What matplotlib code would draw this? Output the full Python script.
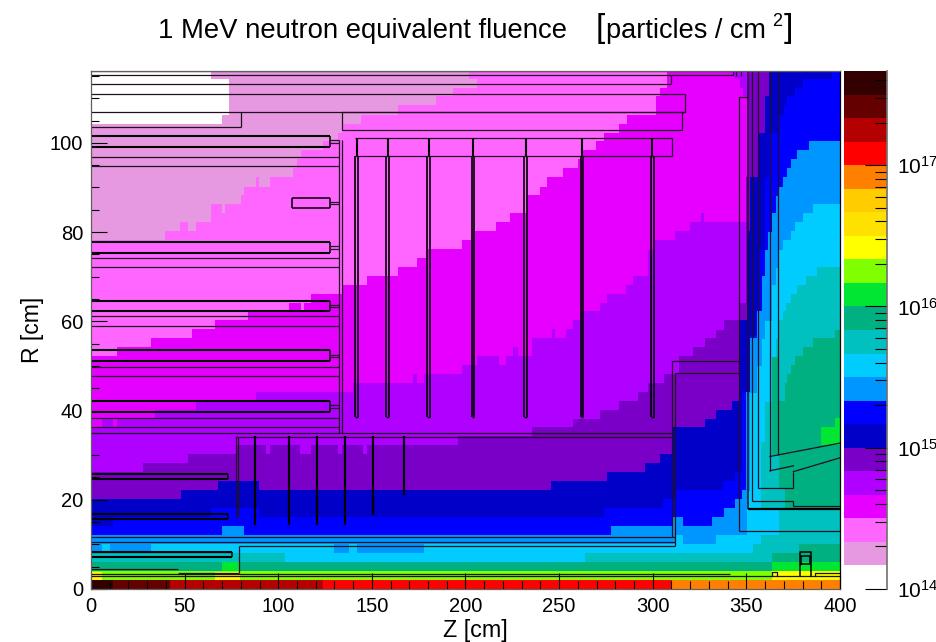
#!/usr/bin/env python3
# -*- coding: utf-8 -*-
import numpy as np
import matplotlib
matplotlib.use('Agg')
import matplotlib.pyplot as plt
from matplotlib.colors import ListedColormap, BoundaryNorm

plt.rcParams['font.family'] = ['Liberation Sans', 'DejaVu Sans']
plt.rcParams['mathtext.fontset'] = 'custom'
plt.rcParams['mathtext.rm'] = 'Liberation Sans'

R_TOP = 116.1

# palette from the bottom of the colour bar upwards, 6 steps per decade
level_colors = ['#ffffff', '#e699e0', '#ff66ff', '#e600ff', '#b000ff', '#7a00c8',
                '#0000c8', '#0000ff', '#0096ff', '#00ccff', '#00c0c0', '#00b080',
                '#00e632', '#80ff00', '#ffff00', '#ffe100', '#ffcc00', '#ff8000',
                '#ff0000', '#b40000', '#640000', '#320000']
level_exponents = [14 + i / 6 for i in range(23)]

# upper edge of every band: step starts in Z and the R height from there on
z_l1 = [0, 69.8, 73.7]
r_l1 = [104.3, 106.3, R_TOP]
z_l2 = [0, 39.5, 47.5, 52, 56, 64, 69.8, 71.7, 79.9, 81.7, 88.1, 89.9, 95.6, 108, 110.2, 112,
        124, 132, 134, 144, 164, 184.2, 193.5, 206]
r_l2 = [78.2, 80.2, 82.2, 80.2, 82.2, 86.2, 84.2, 86.2, 88.3, 90.2, 92.3, 90.2, 92.3, 94.3,
        96.3, 98.3, 100.3, 102.3, 104.3, 106.3, 108.4, 110.4, 112.3, R_TOP]
z_l3 = [0, 13.7, 31.9, 54.1, 66.2, 83.7, 105.9, 112, 113.8, 117.5, 133.9, 147.6, 164.1, 174.3,
        180.2, 198, 205, 216.3, 223.8, 232.7, 239.8, 243.7, 251.9, 260.3, 262.6, 269.7, 274,
        282.2, 286.1, 301.7, 303.9, 307.8]
r_l3 = [52.3, 54.3, 56.2, 58.2, 60.2, 62.2, 64.2, 62.2, 64.2, 66.1, 68.2, 70.2, 72.1, 74.1,
        76.2, 78.2, 80.2, 82.2, 84.2, 88.3, 90.2, 92.3, 94.3, 96.3, 98.3, 100.3, 102.3, 104.3,
        106.3, 110.4, 112.3, R_TOP]
z_l4 = [0, 5.7, 11.9, 14, 34.2, 56.1, 88.1, 140.1, 171.8, 174.3, 177.8, 198, 206, 218.1, 221.6,
        225.6, 228.2, 235.3, 246.1, 247.8, 253.7, 257.6, 261.2, 271.8, 275.8, 285.8, 289.6,
        297.7, 301.2, 311.9, 319.9, 325.8, 327.6, 350.2]
r_l4 = [36.4, 38.2, 36.4, 38.2, 40.1, 42.2, 44.2, 46.1, 48.2, 46.1, 48.2, 50.2, 52.2, 50.2, 52.2,
        54.2, 52.2, 56.2, 58.2, 56.2, 58.2, 60.2, 62.2, 64.2, 66.1, 68.2, 70.2, 76, 78.2, 80.2,
        82.2, 84.2, 82.2, R_TOP]
z_l5 = [0, 27.9, 52, 77.8, 93.5, 95.6, 111.6, 117.5, 132.1, 133.9, 145.4, 147.6, 196.2, 235.3,
        257.6, 271.8, 282.2, 292, 297.7, 306, 314.2, 321.7, 327.9, 333.8, 338, 346.6, 349.8, 351.6]
r_l5 = [26.2, 28.2, 30.2, 32.3, 30.2, 32.3, 30.2, 32.3, 30.2, 32.3, 30.2, 32.3, 34.2, 36.2, 38.2,
        40.1, 42.2, 44.2, 46.1, 48.2, 52.2, 54.2, 56.2, 58.1, 60.2, 64.2, 92.4, R_TOP]
z_l6 = [0, 47.9, 68, 89.9, 245.7, 275.8, 295.9, 303.9, 311, 327.9, 333.8, 342.1, 346.6, 350.5,
        351.9, 356.4, 360, 362.3]
r_l6 = [20.1, 22.2, 24.1, 22.2, 24.1, 26.2, 28.2, 30.2, 36.2, 38.2, 40.1, 42.2, 60.2, 80.2, 92.4,
        102.2, 110.4, R_TOP]
z_l7 = [0, 11.9, 64.1, 89.9, 274, 305.7, 312, 337.7, 344, 347.5, 351.9, 355.4, 356.9, 360, 362.3,
        367, 370.1, 371.5, 376, 380.5, 395.6]
r_l7 = [14.1, 16.1, 18.1, 16.1, 18.1, 20.1, 22.2, 24.1, 26.2, 44.2, 56.6, 62.2, 76, 92.4, 102.2,
        106.3, 108.4, 110.4, 112.3, 114.3, R_TOP]
z_l8 = [0, 69.8, 81.7, 277.7, 310.1, 316.3, 331.5, 337.9, 344, 347.5, 349.8, 351.9, 355.9, 358.2,
        360, 361.7, 363.5, 365.8, 367.6, 369.7, 371.5, 373.7, 377.2, 383.6]
r_l8 = [12.1, 14.1, 12.1, 14.1, 16.1, 14.1, 16.1, 18.1, 20.1, 22.2, 44.2, 56.2, 62.2, 70.2, 76, 80,
        84.2, 88, 90.2, 92.3, 94.3, 96.3, 98.3, 100.3]
z_l9 = [0, 312, 316.3, 333.8, 350.2, 351.9, 355.9, 358.2, 360, 363.5, 366, 367.6, 369.7, 373.7,
        376, 380.5, 385.8]
r_l9 = [10.1, 12.1, 10.1, 12.1, 22, 44, 50, 56, 60, 68.2, 72, 76, 78.2, 80.2, 82.2, 84.2, 86.2]
z_l10 = [0, 103.6, 263.8, 353.7, 357.8, 360, 363.5, 365.8, 367.6, 369.7, 370.9, 373.7, 377.2,
         381.8, 387.5]
r_l10 = [8.1, 6.1, 8.1, 10.1, 33, 42, 52, 56, 60.2, 62.2, 64.1, 66.1, 68.2, 70.2, 72.1]
# the outer green band does not reach the beam line, so it has a floor too
z_l11 = [367.4, 370.4, 371.8, 373.7, 376, 380.1, 385.8, 397.3]
r_l11 = [42.2, 46.1, 48.2, 50.2, 52.2, 54.2, 56.2, 58.1]
floor_l11 = [22.6, 18.1, 18.1, 18.1, 18.1, 18.1, 18.1, 18.1]
z_l11_low = [0, 363.5, 378.3]
r_l11_low = [6.1, 8.1, 10.1]

# bins that stick out of the bands: Z from, Z to, R from, R to, level
island_z0 = [64, 201.9, 343.6, 346.6, 348.4, 0, 10.1, 129.8, 141.9, 357.6, 363.5, 389.9, 397.3]
island_z1 = [73.7, 206, 346.6, 348.4, 350.2, 5.7, 31.9, 137.6, 177.8, 367.4, 367.4, 397.3, 400]
island_r0 = [114.2, 114.3, 114.5, 112.3, 110.4, 8.1, 8.1, 8.1, 8.1, 12.1, 30, 32.3, 32.3]
island_r1 = [R_TOP, R_TOP, R_TOP, R_TOP, R_TOP, 10.1, 10.1, 10.1, 10.1, 18.1, 52, 36.4, 38.3]
island_lev = [1, 2, 4, 4, 4, 8, 8, 8, 8, 9, 11, 12, 12]

# beam line rows at the bottom: Z from, Z to, R from, R to, level
row_z0 = [0, 69.8, 363.5, 0, 66.2, 363.5, 0, 11.9, 42.2, 123.7, 310.1]
row_z1 = [400, 79.6, 400, 5.7, 79.6, 400, 11.9, 42.2, 123.7, 310.1, 400]
row_r0 = [2, 4.1, 4.1, 2, 2, 2, 0, 0, 0, 0, 0]
row_r1 = [4.1, 6.1, 6.1, 3.9, 3.9, 4.1, 2, 2, 2, 2, 2]
row_lev = [13, 12, 12, 14, 14, 14, 21, 20, 19, 18, 17]

# detector outline, thin horizontals: R, Z from, Z to
wall_r = [116.1, 115.2, 113.2, 111, 106.8, 103.5, 102.8, 106.8, 96.9, 94.9, 74.2, 72.1, 61.1, 59, 49.7,
          47.8, 38.3, 36.4, 34.9, 34, 51, 48.4, 11.6, 10.5, 9.7, 3.3, 2.9, 12.9, 8.4, 4.4, 3.5]
wall_z0 = [0, 0, 0, 0, 0, 0, 133.9, 133.9, 0, 0, 0, 0, 0, 0, 0,
           0, 0, 0, 0, 77.3, 310.4, 311.9, 0, 0, 79.2, 0, 0, 346.2, 0, 0, 46.3]
wall_z1 = [343, 343, 310, 317.2, 317.2, 80.3, 315.4, 317.2, 132.6, 132.6, 132.6, 132.6, 132.6, 132.6, 132.6,
           132.6, 132.6, 132.6, 310.5, 310.5, 346.2, 346.2, 312, 312, 312, 341, 400, 400, 75.5, 46.3, 79.2]
# thin verticals: Z, R from, R to
post_z = [310, 317.2, 343, 80.3, 133.9, 315.4, 132.6, 133.9, 77.3, 78.3, 79.2, 310.4, 311.9, 312, 346.2,
          352.8, 356.4, 362.6, 366.9, 375.1, 375.1, 344.4, 346.9]
post_r0 = [113.2, 106.8, 115.2, 103.5, 102.8, 102.8, 34.9, 34.9, 16.1, 16.1, 3.5, 11.6, 10.5, 9.7, 12.9,
           19.7, 22.6, 26.5, 30, 18.6, 22.6, 115, 115]
post_r1 = [115.2, 111, R_TOP, 106.8, 106.8, 106.8, 100.7, 100.7, 34.4, 34, 9.7, 51, 48.4, 10.5, 110.2,
           R_TOP, R_TOP, R_TOP, R_TOP, 19.7, 26.3, R_TOP, R_TOP]

# thick barrel staves: R low, R high, Z end
stave_r0 = [99, 75.3, 62.2, 51, 39.6, 24.6, 15.7, 7.2]
stave_r1 = [101.6, 77.7, 64.6, 53.5, 42.1, 25.7, 16.7, 8.4]
stave_z1 = [127.6, 127.6, 127.6, 127.6, 127.6, 73.3, 73.3, 75.5]
# outer endcap discs, pairs of Z
outer_disc_z0 = [141, 157.5, 179.6, 203.3, 231.4, 261.5, 298.9]
outer_disc_z1 = [142.8, 159.3, 181, 204.5, 232.7, 262.9, 300.7]
# inner endcap discs
inner_disc_z = [87.6, 105.9, 120.9, 135.8, 150.8, 167.3]
inner_disc_r0 = [14.3, 14.3, 14.3, 14.3, 16.6, 21]
inner_disc_r1 = [34.2, 34.2, 34.2, 34.2, 34.2, 34.2]


def band(ax, z, top, lev, floor=None):
    zz = np.append(z, 400)
    tt = np.append(top, top[-1])
    ff = 0 if floor is None else np.append(floor, floor[-1])
    ax.fill_between(zz, ff, tt, step='post', color=level_colors[lev], lw=0, zorder=lev * 0.01 + 1)


def hline(ax, r, z0, z1, lw=0.9, c='#201020'):
    ax.plot([z0, z1], [r, r], color=c, lw=lw, solid_capstyle='butt', zorder=5)


def vline(ax, z, r0, r1, lw=0.9, c='#201020'):
    ax.plot([z, z], [r0, r1], color=c, lw=lw, solid_capstyle='butt', zorder=5)


fig = plt.figure(figsize=(9.37, 6.42), dpi=100)
ax = fig.add_axes([91 / 937, 1 - 589 / 642, 749 / 937, 518 / 642])

bands = [(z_l1, r_l1, 1), (z_l2, r_l2, 2), (z_l3, r_l3, 3), (z_l4, r_l4, 4), (z_l5, r_l5, 5),
         (z_l6, r_l6, 6), (z_l7, r_l7, 7), (z_l8, r_l8, 8), (z_l9, r_l9, 9), (z_l10, r_l10, 10)]
for z, r, lev in bands:
    band(ax, z, r, lev)
band(ax, z_l11, r_l11, 11, floor=floor_l11)
band(ax, z_l11_low, r_l11_low, 11)

for z0, z1, r0, r1, lev in zip(island_z0, island_z1, island_r0, island_r1, island_lev):
    ax.fill_between([z0, z1], r0, r1, color=level_colors[lev], lw=0, zorder=2)
for z0, z1, r0, r1, lev in zip(row_z0, row_z1, row_r0, row_r1, row_lev):
    ax.fill_between([z0, z1], r0, r1, color=level_colors[lev], lw=0, zorder=2.5)

# detector outline
for r, z0, z1 in zip(wall_r, wall_z0, wall_z1):
    hline(ax, r, z0, z1)
for z, r0, r1 in zip(post_z, post_r0, post_r1):
    vline(ax, z, r0, r1)
for r0, r1, z1 in zip(stave_r0, stave_r1, stave_z1):
    hline(ax, r0, 0, z1, lw=1.5, c='k')
    hline(ax, r1, 0, z1, lw=1.5, c='k')
    vline(ax, z1, r0, r1, lw=1.1, c='k')
    if z1 > 100:
        hline(ax, (r0 + r1) / 2 + 0.3, z1, 132.6)
        hline(ax, (r0 + r1) / 2 - 0.3, z1, 132.6)

# short stave sitting alone near R = 86
hline(ax, 87.7, 107.5, 127.6, lw=1.1, c='k')
hline(ax, 85.3, 107.5, 127.6, lw=1.1, c='k')
vline(ax, 107.5, 85.3, 87.7, lw=1.1, c='k')
vline(ax, 127.6, 85.3, 87.7, lw=1.1, c='k')
hline(ax, 86.8, 127.6, 132.6)
hline(ax, 86.2, 127.6, 132.6)

for z0, z1 in zip(outer_disc_z0, outer_disc_z1):
    vline(ax, z0, 38.5, 97.1, lw=1.2, c='k')
    vline(ax, z1, 38.5, 97.1, lw=1.2, c='k')
    hline(ax, 38.5, z0, z1, lw=1, c='k')
    vline(ax, (z0 + z1) / 2, 97.1, 101, lw=1.5, c='k')
hline(ax, 101, outer_disc_z0[0], 310.5)
hline(ax, 97.1, outer_disc_z0[0], 310.5)
vline(ax, 310.5, 97.1, 101)

for z, r0, r1 in zip(inner_disc_z, inner_disc_r0, inner_disc_r1):
    vline(ax, z, r0, r1, lw=1.6, c='k')

# forward region, slanted pieces and the thick wall
hline(ax, 17.9, 351, 400, lw=1.6, c='k')
vline(ax, 351, 17.9, R_TOP, lw=1.1)
hline(ax, 19.7, 352.8, 375.1)
hline(ax, 18.6, 375.1, 400)
hline(ax, 22.6, 356.4, 375.1)
hline(ax, 110.2, 346.2, 351)
ax.plot([375.1, 400], [26.3, 29.4], color='#201020', lw=0.9, zorder=5)
ax.plot([362.6, 375.1], [26.5, 27.6], color='#201020', lw=0.9, zorder=5)
ax.plot([362.6, 400], [29.7, 32.7], color='#201020', lw=0.9, zorder=5)

# small boxes near the beam line at high Z
ax.plot([378.6, 378.6, 384.6, 384.6], [2.9, 8.4, 8.4, 2.9], color='k', lw=1.1, zorder=5)
ax.plot([379.2, 379.2, 384.2, 384.2, 379.2], [5.6, 7.4, 7.4, 5.6, 5.6], color='k', lw=1.1, zorder=5)
ax.plot([363.5, 363.5, 366.5, 366.5], [2.9, 3.8, 3.8, 2.9], color='#201020', lw=0.9, zorder=5)
ax.plot([386.8, 386.8, 400], [2.9, 3.5, 3.5], color='#201020', lw=0.9, zorder=5)

ax.set_xlim(0, 400)
ax.set_ylim(0, R_TOP)
ax.set_xticks(np.arange(0, 401, 50))
ax.set_xticks(np.arange(0, 401, 10), minor=True)
ax.set_yticks(np.arange(0, 101, 20))
ax.set_yticks(np.arange(0, 116, 5), minor=True)
ax.tick_params(which='major', direction='in', length=11.5, width=0.8, labelsize=14.5, zorder=6)
ax.tick_params(axis='x', which='major', pad=5.5)
ax.tick_params(axis='y', which='major', pad=5.5)
ax.tick_params(which='minor', direction='in', length=6, width=0.8)
for name in ['left', 'bottom', 'top']:
    ax.spines[name].set_color('#606060')
ax.spines['right'].set_color('k')
for sp in ax.spines.values():
    sp.set_linewidth(0.9)
    sp.set_zorder(7)
ax.set_axisbelow(False)

# colour bar
cax = fig.add_axes([844 / 937, 1 - 589 / 642, 43 / 937, 518 / 642])
edges = 10.0 ** np.array(level_exponents)
cmap = ListedColormap(level_colors)
norm = BoundaryNorm(edges, cmap.N)
mids = np.sqrt(edges[:-1] * edges[1:])
cax.pcolormesh([0, 1], edges, mids[:, None], cmap=cmap, norm=norm, shading='flat', lw=0)
cax.set_yscale('log')
cax.set_ylim(edges[0], edges[-1])
cax.set_xlim(0, 1)
cax.set_xticks([])
cax.yaxis.tick_right()
cax.set_yticks([1e14, 1e15, 1e16, 1e17])
cax.set_yticklabels(['$\\mathregular{10^{14}}$', '$\\mathregular{10^{15}}$',
                     '$\\mathregular{10^{16}}$', '$\\mathregular{10^{17}}$'])
minor_vals = [m * 10.0 ** e for e in (14, 15, 16, 17) for m in range(2, 10)]
cax.set_yticks([v for v in minor_vals if v < edges[-1]], minor=True)
cax.set_yticklabels([], minor=True)
cax.tick_params(which='major', direction='in', length=15.5, width=0.8, labelsize=15, pad=7)
cax.tick_params(which='minor', direction='in', length=8.5, width=0.8)
for name in ['left', 'top', 'bottom']:
    cax.spines[name].set_visible(False)
cax.spines['right'].set_color('#707070')
cax.spines['right'].set_linewidth(1.2)

# labels
fig.text(33 / 937, 1 - 330 / 642, 'R [cm]', rotation=90, fontsize=16.5, ha='center', va='center')
fig.text(475 / 937, 1 - 630 / 642, 'Z [cm]', fontsize=16.8, ha='center', va='center')
fig.text(158 / 937, 1 - 31 / 642, '1 MeV neutron equivalent fluence', fontsize=19.8, ha='left', va='center')
fig.text(606 / 937, 1 - 31 / 642, 'particles / cm', fontsize=19.5, ha='left', va='center')
fig.text(772 / 937, 1 - 21 / 642, '2', fontsize=13, ha='left', va='center')
fig.text(596 / 937, 1 - 29 / 642, '[', fontsize=24, ha='left', va='center')
fig.text(784 / 937, 1 - 29 / 642, ']', fontsize=24, ha='left', va='center')

fig.savefig('out.png', dpi=100)
